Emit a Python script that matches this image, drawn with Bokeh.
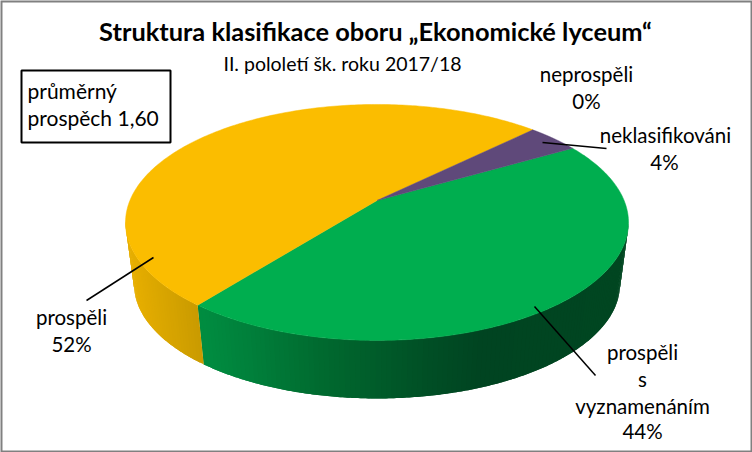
import numpy as np
from bokeh.embed import file_html
from bokeh.resources import INLINE
from bokeh.plotting import figure
from bokeh.models import Range1d
from bokeh.core.properties import value

title = "Struktura klasifikace oboru „Ekonomické lyceum“"
subtitle = "II. pololetí šk. roku 2017/18"
note_lines = ["průměrný", "prospěch 1,60"]
categories = ["prospěli s vyznamenáním", "prospěli", "neklasifikováni", "neprospěli"]
shares = [44, 52, 4, 0]
top_colors = ["#00AE4F", "#FBBD00", "#5F497A", "#C0504D"]

W, H = 752, 452
FONT = "Lato"
CX, CY, A, C, K = 376.5, 200.0, 247.1, 113.9, 0.186
DEPTH_SCALE, BOTTOM_CY = 0.966, 262.8
START_DEG = 59.9


def project(theta_deg, scale=1.0, cy=CY):
    t = np.radians(theta_deg)
    X, Y = np.sin(t), np.cos(t)
    d = 1 + K * Y
    return CX + scale * A * X / d, cy - scale * C * Y / d


def hexcol(rgb):
    return "#%02x%02x%02x" % tuple(int(round(c)) for c in rgb)


# gradient stops along the visible wall: (pixel x, r, g, b)
wall_stops = {
    0: ([203, 260, 320, 376, 430, 480, 620],
        [(0, 140, 64), (0, 124, 57), (0, 106, 47), (0, 92, 42), (0, 78, 37), (0, 68, 33), (0, 70, 33)]),
    1: ([130, 200], [(230, 174, 0), (200, 154, 0)]),
}

p = figure(width=W, height=H, x_range=Range1d(0, W), y_range=Range1d(H, 0),
           toolbar_location=None, output_backend="svg", min_border=0,
           outline_line_color=None, background_fill_color="white",
           border_fill_color="white")
p.axis.visible = False
p.grid.visible = False

edges = START_DEG + np.cumsum([0] + shares) * 3.6

# side wall: each strip overlaps the next one, which paints over the seam
LIMIT = -0.186
for i, share in enumerate(shares):
    if i not in wall_stops or share == 0:
        continue
    stops_x, stops_c = wall_stops[i]
    stops_c = np.array(stops_c, float)
    a, b = edges[i], edges[i + 1]
    n = int(max(2, (b - a) / 1.0))
    th = np.linspace(a, b, n + 1)
    step = th[1] - th[0]
    xs, ys, cols = [], [], []
    for t0, t1 in zip(th[:-1], th[1:]):
        tm = (t0 + t1) / 2
        if np.cos(np.radians(tm)) > LIMIT:
            continue
        t1x = min(t1 + step, b)
        fine = np.linspace(t0, t1x, 5)
        tx, ty = project(fine)
        bx, by = project(fine[::-1], DEPTH_SCALE, BOTTOM_CY)
        xs.append(list(tx) + list(bx))
        ys.append(list(ty) + list(by))
        xm = float(np.mean(project(np.array([t0, t1]))[0]))
        cols.append(hexcol([np.interp(xm, stops_x, stops_c[:, k]) for k in range(3)]))
    p.patches(xs, ys, fill_color=cols, line_color=None)

# top face
for i, share in enumerate(shares):
    if share == 0:
        continue
    th = np.linspace(edges[i], edges[i + 1], 200)
    x, y = project(th)
    p.patch(list(x) + [CX], list(y) + [CY], fill_color=top_colors[i],
            line_color=top_colors[i], line_width=0.5)

# leader lines
leaders = [((542, 142), (606, 148)), ((153, 257), (86, 300)), ((534, 306), (595, 375))]
for s, e in leaders:
    p.line([s[0], e[0]], [s[1], e[1]], line_color="black", line_width=1.5)

# note box
p.quad(left=[21], right=[170], top=[70], bottom=[142], fill_color="white",
       line_color="black", line_width=2)

# chart frame
p.quad(left=[0.5], right=[W - 0.5], top=[0.5], bottom=[H - 0.5], fill_color=None,
       line_color="#808080", line_width=3)

BASE_SHIFT = 0.4  # the browser sets these texts lower than the requested baseline


def txt(x, y, s, size, align="center", style="normal"):
    p.text([x], [y - BASE_SHIFT * size], text=[s], text_font=value(FONT), text_font_size=f"{size}px",
           text_align=align, text_baseline="alphabetic", text_color="black",
           text_font_style=style)


txt(375, 41, title, 25.4, style="bold")
txt(342, 71, subtitle, 19.5)
txt(27, 98, note_lines[0], 21, "left")
txt(27, 125, note_lines[1], 21, "left")
L = 20.5
txt(586, 82, categories[3], L)
txt(586, 109, f"{shares[3]}%", L)
txt(665, 143, categories[2], L)
txt(664, 170, f"{shares[2]}%", L)
txt(71, 325, categories[1], L)
txt(71, 352, f"{shares[1]}%", L)
w = categories[0].split()
txt(642, 360, w[0], L)
txt(642, 387, w[1], L)
txt(642, 414, w[2], L)
txt(642, 439, f"{shares[0]}%", L)

open("out.html", "w").write(file_html(p, INLINE))
